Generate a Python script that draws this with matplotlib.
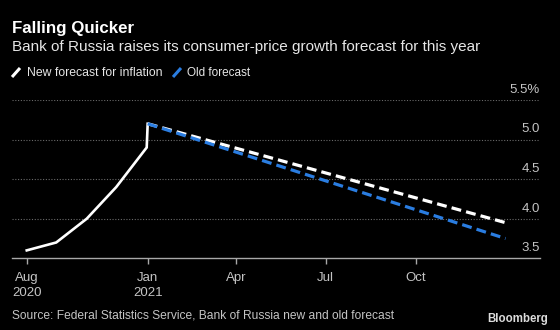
import matplotlib
matplotlib.use('Agg')
import matplotlib.pyplot as plt
import matplotlib.transforms as mtransforms
from matplotlib.lines import Line2D
import pandas as pd

# ── data ─────────────────────────────────────────
actual_dates = ['2020-08-31', '2020-09-30', '2020-10-31', '2020-11-30',
                '2020-12-31', '2021-01-01']
actual_vals = [3.6, 3.7, 4.0, 4.4, 4.9, 5.2]

fcst_dates = ['2021-01-01', '2021-12-31']
new_fcst = [5.2, 3.95]
old_fcst = [5.2, 3.75]

tick_dates = ['2020-08-31', '2021-01-01', '2021-04-01', '2021-07-01', '2021-10-01']
tick_labels = ['Aug\n2020', 'Jan\n2021', 'Apr', 'Jul', 'Oct']
y_ticks = [3.5, 4.0, 4.5, 5.0, 5.5]
y_labels = ['3.5', '4.0', '4.5', '5.0', '5.5%']

# ── style ────────────────────────────────────────
BG = '#000000'
WHITE = '#ffffff'
BLUE = '#2a7de1'
TEXT = '#e6e6e6'
MUTED = '#c4c4c4'
GRID = '#6a6a6a'

plt.rcParams['font.family'] = ['Liberation Sans', 'DejaVu Sans']

fig = plt.figure(figsize=(5.6, 3.3), dpi=100, facecolor=BG)
ax = fig.add_axes([12 / 560, 1 - 258.3 / 330, 528 / 560, 158.3 / 330])
ax.set_facecolor(BG)
renderer = fig.canvas.get_renderer()


def fit(t, width_px):
    # shrink/grow a text so that it spans the same width as in the reference
    w = t.get_window_extent(renderer).width
    t.set_fontsize(t.get_fontsize() * width_px / w)
    return t


ad = pd.to_datetime(actual_dates)
fd = pd.to_datetime(fcst_dates)

ax.plot(ad, actual_vals, color=WHITE, lw=1.9, solid_joinstyle='miter', zorder=3)
ax.plot(fd, new_fcst, color=WHITE, lw=2.3, dashes=(3.1, 1.6), zorder=3)
ax.plot(fd, old_fcst, color=BLUE, lw=2.3, dashes=(3.1, 1.6), zorder=4)

ax.set_xlim(pd.Timestamp('2020-08-16'), pd.Timestamp('2022-02-04'))
ax.set_ylim(3.5, 5.5)

# dotted grid
for v in y_ticks[1:]:
    ax.axhline(v, color=GRID, lw=0.8, ls=(0, (1, 1.5)), zorder=1)

for s in ['top', 'left', 'right']:
    ax.spines[s].set_visible(False)
ax.spines['bottom'].set_color('#a8a8a8')
ax.spines['bottom'].set_linewidth(1.0)

ax.set_xticks(pd.to_datetime(tick_dates))
ax.set_xticklabels(tick_labels, fontsize=9.5, color=MUTED, linespacing=1.3)
ax.tick_params(axis='x', length=4, width=1, color='#a8a8a8', pad=6)
ax.set_yticks([])

# y labels sit above the gridlines on the right
trans = mtransforms.blended_transform_factory(ax.transAxes, ax.transData)
off = mtransforms.offset_copy(trans, fig=fig, y=3, units='points')
for v, lab in zip(y_ticks, y_labels):
    ax.text(1.0, v, lab, transform=off, ha='right', va='bottom',
            fontsize=9.5, color=MUTED)

# ── titles ───────────────────────────────────────
fit(fig.text(12 / 560, 1 - 33.5 / 330, 'Falling Quicker', fontsize=12,
             fontweight='bold', color=WHITE, va='baseline'), 121)
fit(fig.text(12 / 560, 1 - 50.7 / 330,
             'Bank of Russia raises its consumer-price growth forecast for this year',
             fontsize=12, color=TEXT, va='baseline'), 470)

# legend
for x0, x1, col, lab, w in [(12, 27, WHITE, 'New forecast for inflation', 136),
                            (173, 187, BLUE, 'Old forecast', 64)]:
    fig.add_artist(Line2D([x0 / 560, (x0 + 8) / 560],
                          [1 - 77 / 330, 1 - 68 / 330],
                          color=col, lw=2.2, solid_capstyle='butt'))
    fit(fig.text(x1 / 560, 1 - 76.5 / 330, lab, fontsize=9,
                 color=TEXT, va='baseline'), w)

# footer
fit(fig.text(12 / 560, 1 - 318.3 / 330,
             'Source: Federal Statistics Service, Bank of Russia new and old forecast',
             fontsize=9, color=MUTED, va='baseline'), 383)
fit(fig.text(548 / 560, 1 - 322 / 330, 'Bloomberg', fontsize=9,
             fontweight='bold', color='#dcdcdc', ha='right', va='baseline'), 61)

fig.savefig('out.png', dpi=100, facecolor=BG)
